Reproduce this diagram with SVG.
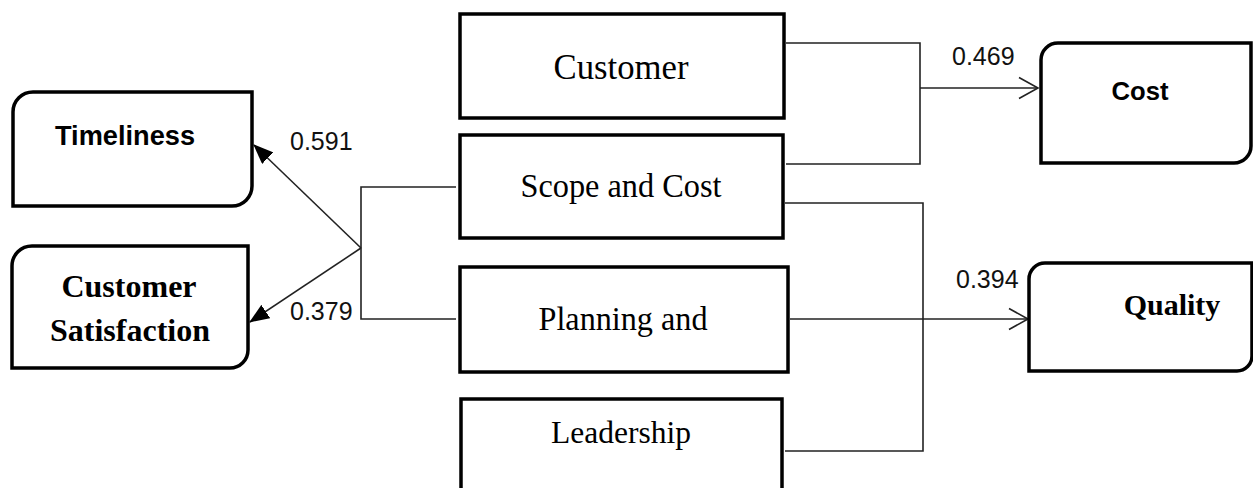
<svg xmlns="http://www.w3.org/2000/svg" width="1253" height="488" viewBox="0 0 1253 488">
<style>
.box{fill:#fff;stroke:#000;stroke-width:3.5}
.con{fill:none;stroke:#222;stroke-width:1.6}
.serif{font-family:"Liberation Serif","Times New Roman",serif;fill:#000}
.sans{font-family:"Liberation Sans",Arial,sans-serif;fill:#000}
.num{font-family:"Liberation Sans",Arial,sans-serif;font-size:25px;fill:#111}
</style>
<defs>
<marker id="fill" markerUnits="userSpaceOnUse" markerWidth="20" markerHeight="16" viewBox="0 0 20 16" refX="19" refY="8" orient="auto">
<path d="M0,0 L20,8 L0,16 Z" fill="#000"/>
</marker>
<marker id="open" markerUnits="userSpaceOnUse" markerWidth="22" markerHeight="24" viewBox="0 0 22 24" refX="20" refY="12" orient="auto">
<path d="M1,1.5 L20,12 L1,22.5" fill="none" stroke="#222" stroke-width="1.6"/>
</marker>
</defs>

<g id="connectors">
<polyline class="con" points="456,187 361,187 361,319 456,319"/>
<line class="con" x1="361" y1="248" x2="254" y2="145" marker-end="url(#fill)"/>
<line class="con" x1="361" y1="248" x2="250" y2="322" marker-end="url(#fill)"/>
<polyline class="con" points="786,43 920,43 920,164 786,164"/>
<line class="con" x1="920" y1="88" x2="1038" y2="88" marker-end="url(#open)"/>
<polyline class="con" points="785,203 923,203 923,451 785,451"/>
<line class="con" x1="790" y1="319" x2="1028" y2="319" marker-end="url(#open)"/>
<text class="num" x="290" y="150">0.591</text>
<text class="num" x="290" y="320">0.379</text>
<text class="num" x="952" y="65">0.469</text>
<text class="num" x="956" y="288">0.394</text>
</g>

<g id="timeliness">
<path class="box" d="M33,92 H252 V186 A20,20 0 0 1 232,206 H13 V112 A20,20 0 0 1 33,92 Z"/>
<text class="sans" x="125" y="145" font-size="27" font-weight="bold" text-anchor="middle" textLength="140" lengthAdjust="spacingAndGlyphs">Timeliness</text>
</g>

<g id="customer-satisfaction">
<path class="box" d="M32,246 H248 V350 A18,18 0 0 1 230,368 H12 V266 A20,20 0 0 1 32,246 Z"/>
<text class="serif" x="129" y="297" font-size="32" font-weight="bold" text-anchor="middle">Customer</text>
<text class="serif" x="130" y="341" font-size="32" font-weight="bold" text-anchor="middle">Satisfaction</text>
</g>

<g id="customer">
<rect class="box" x="460" y="14" width="324" height="104"/>
<text class="serif" x="621" y="79" font-size="36" text-anchor="middle" textLength="135" lengthAdjust="spacingAndGlyphs">Customer</text>
</g>

<g id="scope-and-cost">
<rect class="box" x="460" y="135" width="323" height="103"/>
<text class="serif" x="621" y="197" font-size="33" text-anchor="middle" textLength="201" lengthAdjust="spacingAndGlyphs">Scope and Cost</text>
</g>

<g id="planning-and">
<rect class="box" x="460" y="267" width="328" height="105"/>
<text class="serif" x="623" y="330" font-size="33" text-anchor="middle" textLength="169" lengthAdjust="spacingAndGlyphs">Planning  and</text>
</g>

<g id="leadership">
<rect class="box" x="461" y="399" width="321" height="100"/>
<text class="serif" x="621" y="443" font-size="32" text-anchor="middle" textLength="140" lengthAdjust="spacingAndGlyphs">Leadership</text>
</g>

<g id="cost">
<path class="box" d="M1058,43 H1251 V146 A17,17 0 0 1 1234,163 H1041 V60 A17,17 0 0 1 1058,43 Z"/>
<text class="sans" x="1140" y="100" font-size="26" font-weight="bold" text-anchor="middle" textLength="57" lengthAdjust="spacingAndGlyphs">Cost</text>
</g>

<g id="quality">
<path class="box" d="M1045,263 H1252 V356 A15,15 0 0 1 1237,371 H1029 V279 A16,16 0 0 1 1045,263 Z"/>
<text class="serif" x="1172" y="315" font-size="30" font-weight="bold" text-anchor="middle">Quality</text>
</g>
</svg>
